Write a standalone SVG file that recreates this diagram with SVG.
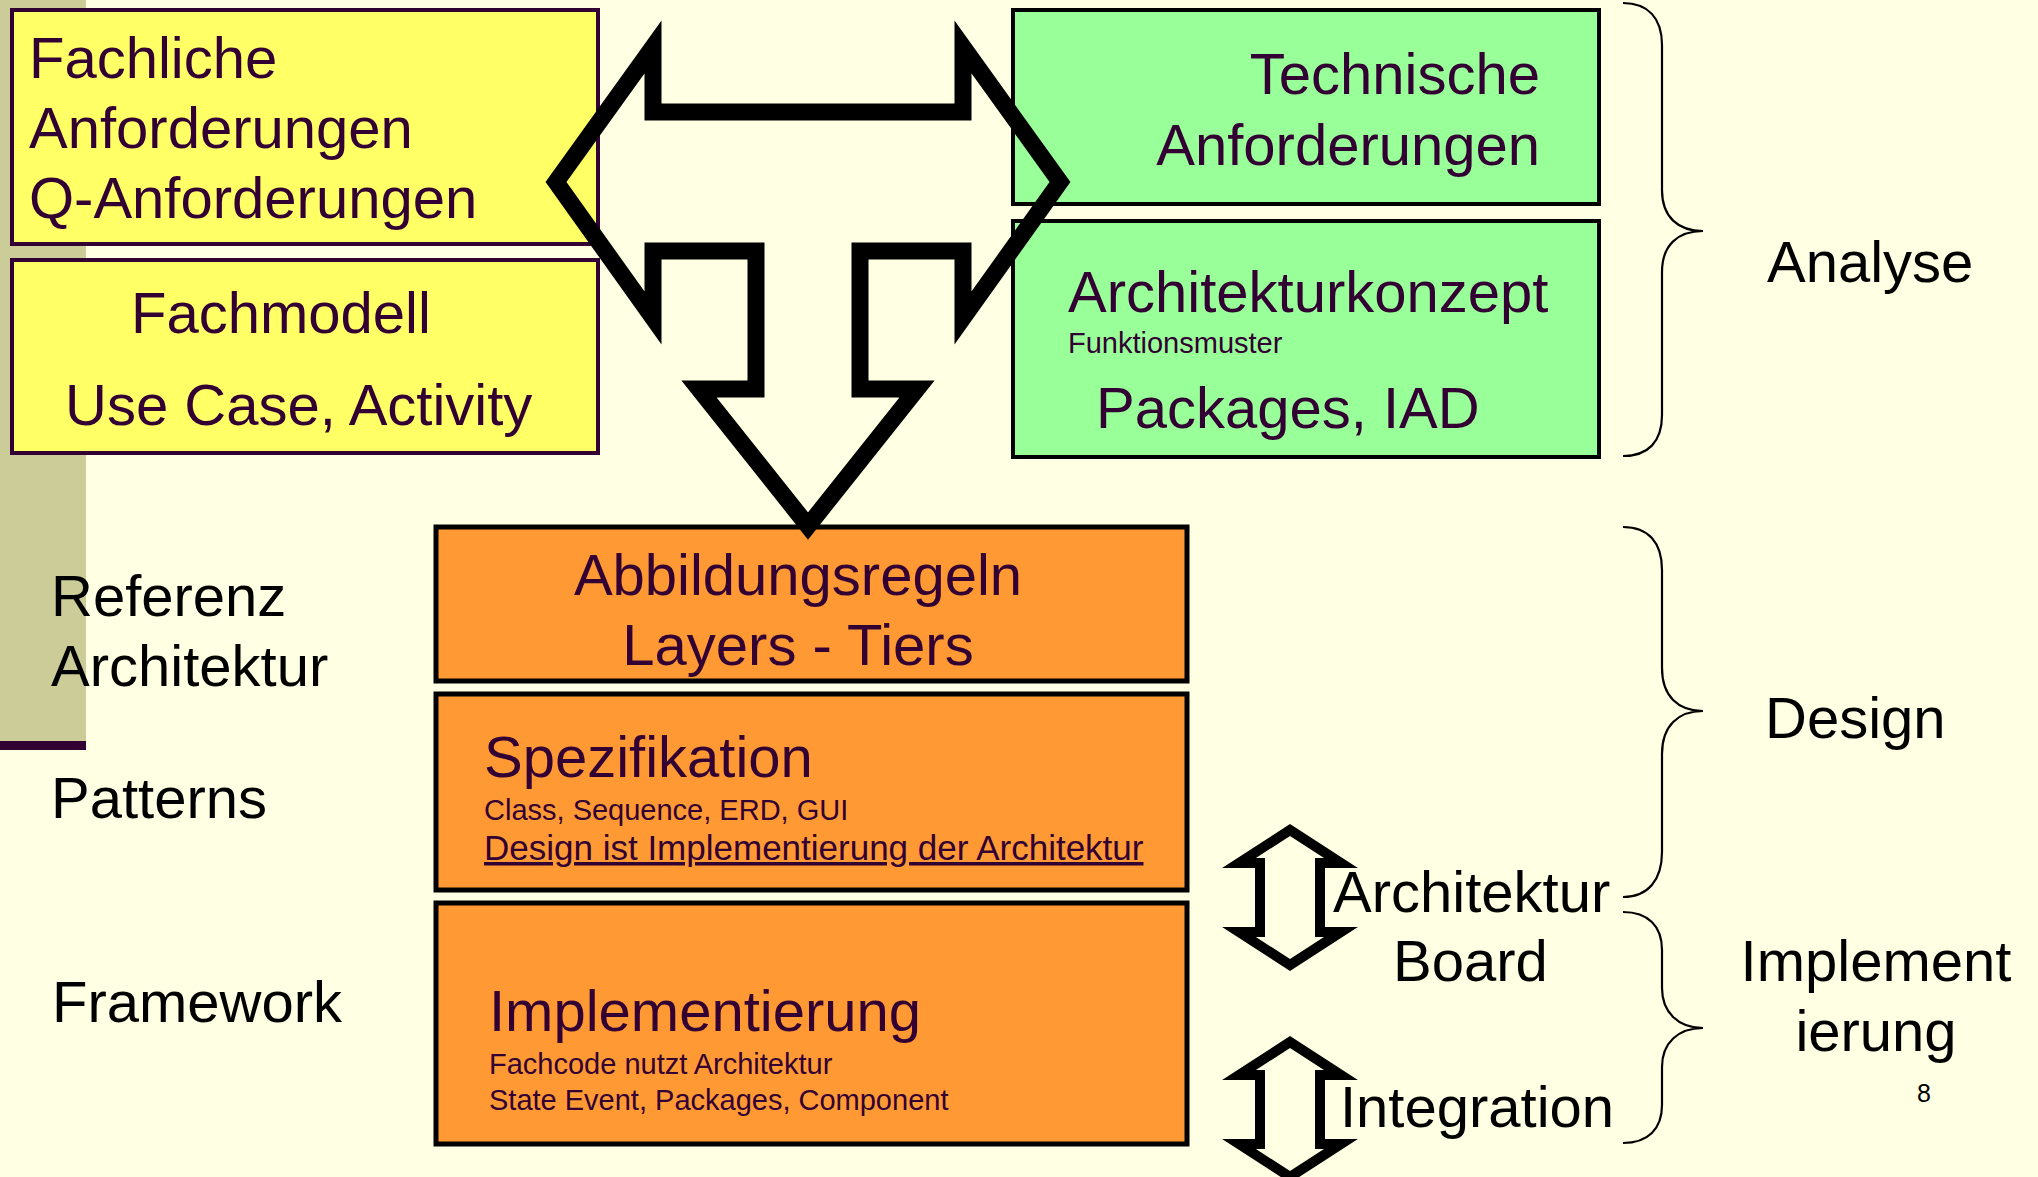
<svg xmlns="http://www.w3.org/2000/svg" width="2038" height="1177" viewBox="0 0 2038 1177">
  <style>
    text { font-family: "Liberation Sans", Arial, sans-serif; }
    .big { font-size: 58px; }
    .small { font-size: 29px; }
    .mid { font-size: 35px; }
    .box-text { fill: #330033; }
    .label { fill: #000000; }
    .yellow { fill: #FFFF66; stroke: #330033; stroke-width: 4; }
    .green { fill: #99FF99; stroke: #000000; stroke-width: 4; }
    .orange { fill: #FF9933; stroke: #000000; stroke-width: 5; }
    .brace { fill: none; stroke: #000000; stroke-width: 2.2; }
    .outline-arrow { fill: none; stroke: #000000; stroke-linejoin: miter; stroke-miterlimit: 10; }
  </style>

  <!-- page background and side band -->
  <rect x="0" y="0" width="2038" height="1177" fill="#FFFFE3"/>
  <rect x="0" y="0" width="86" height="741" fill="#CCCC99"/>
  <rect x="0" y="741" width="86" height="9" fill="#330033"/>

  <!-- analysis inputs -->
  <g id="fachliche-anforderungen">
    <rect class="yellow" x="12" y="10" width="586" height="234"/>
    <text class="big box-text" x="29" y="78">Fachliche</text>
    <text class="big box-text" x="29" y="148">Anforderungen</text>
    <text class="big box-text" x="29" y="218">Q-Anforderungen</text>
  </g>
  <g id="fachmodell">
    <rect class="yellow" x="12" y="260" width="586" height="193"/>
    <text class="big box-text" x="131" y="333">Fachmodell</text>
    <text class="big box-text" x="65" y="425">Use Case, Activity</text>
  </g>
  <g id="technische-anforderungen">
    <rect class="green" x="1013" y="10" width="586" height="194"/>
    <text class="big box-text" x="1540" y="94" text-anchor="end">Technische</text>
    <text class="big box-text" x="1540" y="165" text-anchor="end">Anforderungen</text>
  </g>
  <g id="architekturkonzept">
    <rect class="green" x="1013" y="221" width="586" height="236"/>
    <text class="big box-text" x="1068" y="312">Architekturkonzept</text>
    <text class="small box-text" x="1068" y="353">Funktionsmuster</text>
    <text class="big box-text" x="1096" y="428">Packages, IAD</text>
  </g>

  <!-- design / implementation stack -->
  <g id="abbildungsregeln">
    <rect class="orange" x="436" y="527" width="751" height="154"/>
    <text class="big box-text" x="798" y="595" text-anchor="middle">Abbildungsregeln</text>
    <text class="big box-text" x="798" y="665" text-anchor="middle">Layers - Tiers</text>
  </g>
  <g id="spezifikation">
    <rect class="orange" x="436" y="694" width="751" height="196"/>
    <text class="big box-text" x="484" y="777">Spezifikation</text>
    <text class="small box-text" x="484" y="820">Class, Sequence, ERD, GUI</text>
    <text class="mid box-text" x="484" y="860" text-decoration="underline">Design ist Implementierung der Architektur</text>
  </g>
  <g id="implementierung">
    <rect class="orange" x="436" y="903" width="751" height="241"/>
    <text class="big box-text" x="489" y="1031">Implementierung</text>
    <text class="small box-text" x="489" y="1074">Fachcode nutzt Architektur</text>
    <text class="small box-text" x="489" y="1110">State Event, Packages, Component</text>
  </g>

  <!-- left-hand labels -->
  <g id="referenz-architektur">
    <text class="big label" x="51" y="616">Referenz</text>
    <text class="big label" x="51" y="686">Architektur</text>
  </g>
  <g id="patterns">
    <text class="big label" x="51" y="818">Patterns</text>
  </g>
  <g id="framework">
    <text class="big label" x="52" y="1022">Framework</text>
  </g>

  <!-- right-hand labels -->
  <g id="architektur-board">
    <text class="big label" x="1333" y="912">Architektur</text>
    <text class="big label" x="1393" y="981">Board</text>
  </g>
  <g id="integration">
    <text class="big label" x="1340" y="1127">Integration</text>
  </g>
  <g id="phase-analyse">
    <text class="big label" x="1767" y="282">Analyse</text>
  </g>
  <g id="phase-design">
    <text class="big label" x="1765" y="738">Design</text>
  </g>
  <g id="phase-implementierung">
    <text class="big label" x="1876" y="981" text-anchor="middle">Implement</text>
    <text class="big label" x="1876" y="1051" text-anchor="middle">ierung</text>
  </g>
  <text class="label" x="1917" y="1102" font-size="25">8</text>

  <!-- phase braces -->
  <g id="braces">
    <path class="brace" d="M1623,3 C1648,3 1662,18 1662,45 L1662,190 C1662,217 1678,231 1703,231 C1678,231 1662,245 1662,272 L1662,415 C1662,442 1648,456 1623,456"/>
    <path class="brace" d="M1623,527 C1648,527 1662,542 1662,570 L1662,668 C1662,696 1678,711 1703,711 C1678,711 1662,726 1662,754 L1662,852 C1662,880 1648,897 1623,897"/>
    <path class="brace" d="M1623,912 C1648,912 1662,926 1662,950 L1662,988 C1662,1012 1678,1028 1703,1028 C1678,1028 1662,1043 1662,1067 L1662,1105 C1662,1129 1648,1143 1623,1143"/>
  </g>

  <!-- outlined block arrows -->
  <g id="connectors">
    <path class="outline-arrow" stroke-width="17" d="M556,182 L653,47 L653,112 L963,112 L963,47 L1060,182 L963,318 L963,251 L860,251 L860,389 L917,389 L808,526 L699,389 L756,389 L756,251 L653,251 L653,318 Z"/>
    <path class="outline-arrow" stroke-width="10" d="M1290,830 L1341,863 L1320,863 L1320,932 L1341,932 L1290,965 L1239,932 L1260,932 L1260,863 L1239,863 Z"/>
    <path class="outline-arrow" stroke-width="10" d="M1290,1042 L1341,1075 L1320,1075 L1320,1144 L1341,1144 L1290,1177 L1239,1144 L1260,1144 L1260,1075 L1239,1075 Z"/>
  </g>
</svg>
